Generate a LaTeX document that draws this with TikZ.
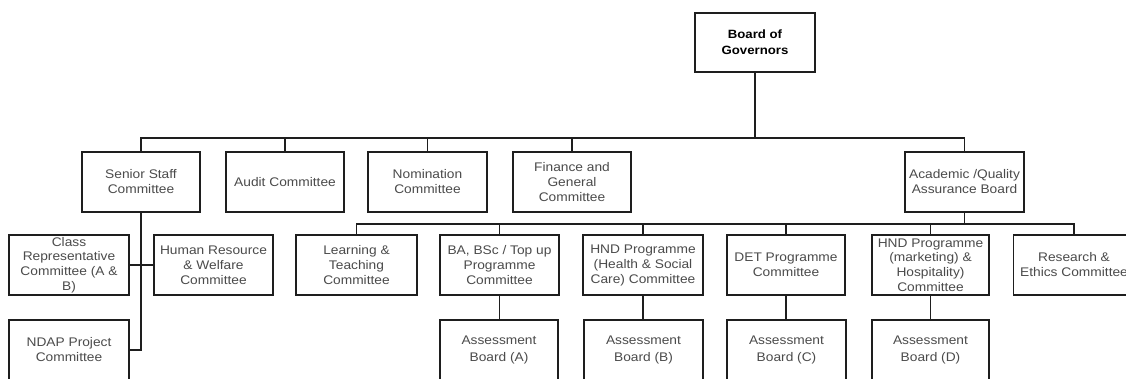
\documentclass[tikz,border=0pt]{standalone}
\usepackage{fontspec}
\setmainfont{Liberation Sans}[FakeStretch=1.1]
\definecolor{linec}{RGB}{30,30,30}
\definecolor{textc}{RGB}{75,75,75}
\tikzset{
  bx/.style={draw=linec, line width=1.9pt, inner sep=0pt, minimum height=60pt,
    align=center, text=textc, font=\fontsize{12.5}{15}\selectfont, fill=white},
  conn/.style={draw=linec, line width=1.9pt, line join=miter},
}
\begin{document}
\begin{tikzpicture}[x=1pt,y=-1pt]
\path[use as bounding box, clip] (0,0) rectangle (1126,378);
\fill[white] (0,0) rectangle (1126,378);
% coordinates of buses
\coordinate (bus1) at (0,138);
\coordinate (bus2) at (0,224);
% top
\node[bx, minimum width=120pt, minimum height=59pt, text=black, font=\bfseries\fontsize{12}{16}\selectfont] (bog) at (755,42.5) {Board of\\Governors};
% row 1
\node[bx, minimum width=118pt] (ss) at (141,182) {Senior Staff\\Committee};
\node[bx, minimum width=118pt] (audit) at (285,182) {Audit Committee};
\node[bx, minimum width=119pt] (nom) at (427.5,182) {Nomination\\Committee};
\node[bx, minimum width=118pt] (fin) at (572,182) {Finance and\\General\\Committee};
\node[bx, minimum width=119pt] (aqab) at (964.5,182) {Academic /Quality\\Assurance Board};
% row 2
\node[bx, minimum width=120pt, font=\fontsize{12.5}{14.7}\selectfont] (cr) at (69,265) {Class\\Representative\\Committee (A \&\\B)};
\node[bx, minimum width=119pt] (hr) at (213.5,265) {Human Resource\\\& Welfare\\Committee};
\node[bx, minimum width=121pt] (lt) at (356.5,265) {Learning \&\\Teaching\\Committee};
\node[bx, minimum width=119pt] (ba) at (499.5,265) {BA, BSc / Top up\\Programme\\Committee};
\node[bx, minimum width=120pt] (hndh) at (643,265) {HND Programme\\(Health \& Social\\Care) Committee};
\node[bx, minimum width=118pt] (det) at (786,265) {DET Programme\\Committee};
\node[bx, minimum width=117pt, font=\fontsize{12.5}{14.7}\selectfont] (hndm) at (930.5,265) {HND Programme\\(marketing) \&\\Hospitality)\\Committee};
\node[bx, minimum width=121pt] (re) at (1074,265) {Research \&\\Ethics Committee};
% row 3
\node[bx, minimum width=120pt] (ndap) at (69,350) {NDAP Project\\Committee};
\node[bx, minimum width=118pt, font=\fontsize{12.5}{17}\selectfont] (aA) at (499,350) {Assessment\\Board (A)};
\node[bx, minimum width=119pt, font=\fontsize{12.5}{17}\selectfont] (aB) at (643.5,350) {Assessment\\Board (B)};
\node[bx, minimum width=119pt, font=\fontsize{12.5}{17}\selectfont] (aC) at (786.5,350) {Assessment\\Board (C)};
\node[bx, minimum width=117pt, font=\fontsize{12.5}{17}\selectfont] (aD) at (930.5,350) {Assessment\\Board (D)};
% connectors level 1
\draw[conn] (bog.south) -- (bog.south |- bus1);
\draw[conn] (ss.north) -- (ss.north |- bus1) -- (aqab.north |- bus1) -- (aqab.north);
\foreach \n in {audit,nom,fin} \draw[conn] (\n.north) -- (\n.north |- bus1);
% connectors level 2
\draw[conn] (aqab.south) -- (aqab.south |- bus2);
\draw[conn] (lt.north) -- (lt.north |- bus2) -- (re.north |- bus2) -- (re.north);
\foreach \n in {ba,hndh,det,hndm} \draw[conn] (\n.north) -- (\n.north |- bus2);
% senior staff branch
\draw[conn] (ss.south) -- (ss.south |- ndap.east) -- (ndap.east);
\draw[conn] (cr.east) -- (hr.west);
% assessment boards
\draw[conn] (ba.south) -- (ba.south |- aA.north);
\draw[conn] (hndh.south) -- (hndh.south |- aB.north);
\draw[conn] (det.south) -- (det.south |- aC.north);
\draw[conn] (hndm.south) -- (hndm.south |- aD.north);
\end{tikzpicture}
\end{document}
